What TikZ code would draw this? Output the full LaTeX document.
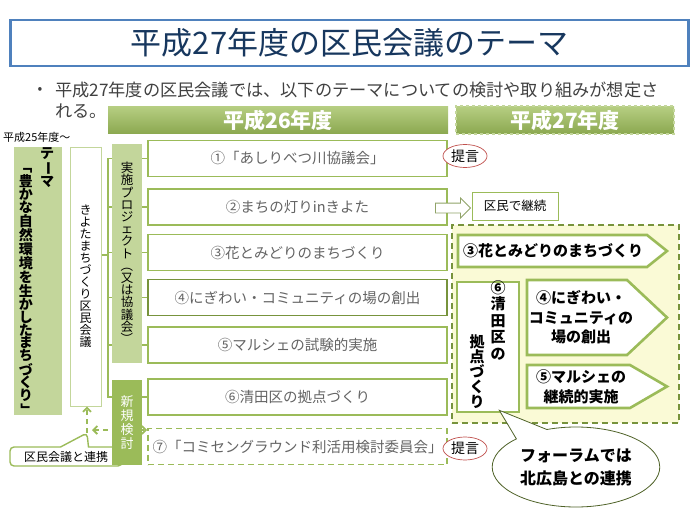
\documentclass[tikz,border=0pt]{standalone}
\usepackage{fontspec}
\setmainfont{Noto Sans CJK JP}
\usepackage{graphicx}
\definecolor{olive}{RGB}{155,187,89}
\definecolor{olivelight}{RGB}{195,214,155}
\definecolor{olivedark}{RGB}{119,147,60}
\definecolor{oliveshade}{RGB}{182,206,130}
\definecolor{titleblue}{RGB}{79,129,189}
\definecolor{titletext}{RGB}{23,55,94}
\definecolor{textgray}{RGB}{100,100,100}
\definecolor{leadgray}{RGB}{64,64,64}
\definecolor{paleyellow}{RGB}{250,250,214}
\definecolor{proposalred}{RGB}{192,80,77}
\definecolor{forumgreen}{RGB}{79,98,40}
\usetikzlibrary{arrows.meta, positioning, shapes.geometric, shapes.arrows, shapes.callouts}
% rotated glyph for vertical writing
\newcommand{\tate}[1]{\raisebox{0pt}[0.8em][0.1em]{\rotatebox[origin=c]{-90}{#1}}}

\begin{document}
\begin{tikzpicture}[x=1pt, y=-1pt,
  item/.style={draw=olive, line width=1.6pt, fill=white, minimum width=299pt,
               minimum height=36pt, inner sep=0pt, text=textgray,
               font=\fontsize{14.5}{16}\selectfont},
  hdr/.style={top color=oliveshade, bottom color=olive!90!black, minimum height=23pt,
              text=white, font=\fontsize{21}{22}\bfseries},
  vcol/.style={align=center, inner sep=0pt},
  tree/.style={draw=olive, line width=1.6pt},
  link/.style={draw=olive, line width=1.8pt, dashed, dash pattern=on 5pt off 4pt},
  pent/.style={draw=olive, line width=2.6pt, fill=white, line join=miter},
  pentlabel/.style={align=center, inner sep=0pt, font=\fontsize{15}{19.5}\bfseries},
  teigen/.style={ellipse, draw=proposalred, line width=0.7pt, fill=white, inner sep=0pt,
                 minimum width=44pt, minimum height=23pt, font=\fontsize{14}{15}\selectfont}
]
  \useasboundingbox (0,0) rectangle (699,519);

  % Title and lead
  \node[draw=titleblue, line width=2.5pt, minimum width=678pt, minimum height=46pt,
        text=titletext, font=\fontsize{31}{34}\selectfont] (title) at (349.5,43)
        {平成27年度の区民会議のテーマ};
  \node[text=leadgray, font=\fontsize{14}{15}\selectfont] (dot) at (40,90) {•};
  \node[anchor=west, inner sep=0pt, text=leadgray, font=\fontsize{17.2}{19}\selectfont]
        (lead) at (55,90) {平成27年度の区民会議では、以下のテーマについての検討や取り組みが想定さ};
  \node[anchor=west, inner sep=0pt, text=leadgray, font=\fontsize{17.2}{19}\selectfont]
        (lead2) at (55,111) {れる。};

  % Year headers
  \node[hdr, minimum width=340pt] (h26) at (278,120) {平成26年度};
  \node[hdr, minimum width=218pt, draw=olivelight, line width=1.8pt, dashed] (h27) at (565,120) {平成27年度};
  \node[anchor=west, inner sep=0pt, font=\fontsize{11}{12}\selectfont] (since) at (3,137) {平成25年度～};

  % Theme column
  \node[fill=olivelight, minimum width=48pt, minimum height=268pt] (theme) at (38,281) {};
  \node[vcol, anchor=north, font=\fontsize{14}{14}\bfseries] (themelabel) at (47,147)
        {テ\\\tate{ー}\\マ};
  \node[vcol, anchor=north, font=\fontsize{14}{12.8}\bfseries] (themetext) at (26,161)
        {\tate{「}\\豊\\か\\な\\自\\然\\環\\境\\を\\生\\か\\し\\た\\ま\\ち\\づ\\く\\り\\\tate{」}};
  \node[draw=olivelight, line width=1pt, fill=white, minimum width=31pt, minimum height=259pt,
        vcol, font=\fontsize{12}{12}\selectfont] (kumin) at (85.5,276.5)
        {き\\よ\\た\\ま\\ち\\づ\\く\\り\\区\\民\\会\\議};

  % Items of 平成26年度
  \node[item] (i1) at (297.5,158.5) {①「あしりべつ川協議会」};
  \node[item] (i2) at (297.5,207)   {②まちの灯りinきよた};
  \node[item] (i3) at (297.5,252.5) {③花とみどりのまちづくり};
  \node[item, draw=olivedark] (i4) at (297.5,297.5) {④にぎわい・コミュニティの場の創出};
  \node[item] (i5) at (297.5,345)   {⑤マルシェの試験的実施};
  \node[item] (i6) at (297.5,397)   {⑥清田区の拠点づくり};
  \node[item, dashed, dash pattern=on 6pt off 4pt] (i7) at (297.5,446.5) {⑦「コミセングラウンド利活用検討委員会」};

  % Link callout
  \coordinate (linkpt) at (87,433);
  \node[rectangle callout, draw=olive, line width=1.4pt, fill=white, rounded corners=4pt,
        minimum width=112pt, minimum height=19pt, inner sep=0pt, callout pointer width=28pt,
        callout absolute pointer=(linkpt), font=\fontsize{12}{13}\selectfont]
        (renkei) at (66,456.5) {区民会議と連携};

  % Tree connectors
  \coordinate (fork) at (108,255);
  \draw[tree] (kumin.east |- fork) -- (fork);
  \foreach \n in {1,...,6}
    \draw[tree] (fork) |- (i\n.west);
  \draw[link, -{Straight Barb[length=4pt,width=8pt]}] (linkpt) -- (linkpt |- kumin.south);
  \draw[link, {Straight Barb[length=4pt,width=8pt]}-{Straight Barb[length=4pt,width=8pt]}]
    ([xshift=5pt,yshift=3pt]linkpt) -- ([yshift=3pt]linkpt -| i7.west);

  % Category boxes
  \node[fill=olivelight, minimum width=30pt, minimum height=219pt, vcol,
        font=\fontsize{12.5}{12.2}\selectfont] (jisshi) at (127,253.5)
        {実\\施\\プ\\ロ\\ジ\\ェ\\ク\\ト\\\tate{（}\\又\\は\\協\\議\\会\\\tate{）}};
  \node[fill=olive, minimum width=30pt, minimum height=85pt, vcol, text=white,
        font=\fontsize{13}{14}\selectfont] (shinki) at (127,422.5)
        {新\\規\\検\\討};

  % Proposals and continuation
  \node[teigen] (t1) at (465,156) {提言};
  \node[teigen] (t7) at (465,448.5) {提言};
  \node[single arrow, draw=olive!60!gray, line width=0.8pt, fill=white, inner sep=4.5pt,
        single arrow head extend=5pt, minimum height=35pt] (arr) at (450.5,208) {};
  \node[draw=olive, line width=0.9pt, fill=white, minimum width=86pt, minimum height=28pt,
        inner sep=0pt, font=\fontsize{12.5}{13}\selectfont] (keizoku) at (515,206) {区民で継続};

  % 平成27年度 area
  \node[draw=olivedark, line width=1.5pt, dashed, dash pattern=on 6pt off 4pt, fill=paleyellow,
        minimum width=227pt, minimum height=198pt] (zone) at (565.5,324) {};
  \draw[pent] (458,235) -- (647,235) -- (667,251) -- (647,267) -- (458,267) -- cycle;
  \node[pentlabel] (p3) at (553,251) {③花とみどりのまちづくり};
  \node[draw=olive, line width=2.6pt, fill=white, minimum width=62pt, minimum height=130pt]
        (hub) at (488,347) {};
  \node[vcol, anchor=north, font=\fontsize{15}{16.5}\bfseries] (hubcol1) at (498,280)
        {⑥\\清\\田\\区\\の};
  \node[vcol, anchor=north, font=\fontsize{15}{15}\bfseries] (hubcol2) at (477,334)
        {拠\\点\\づ\\く\\り};
  \draw[pent] (527,280) -- (627,280) -- (667,317.5) -- (627,355) -- (527,355) -- cycle;
  \node[pentlabel] (p4) at (581,317.5) {④にぎわい・\\コミュニティの\\場の創出};
  \draw[pent] (527,365) -- (630,365) -- (667,386.5) -- (630,408) -- (527,408) -- cycle;
  \node[pentlabel] (p5) at (581,387) {⑤マルシェの\\継続的実施};

  % Forum callout
  \coordinate (hubtip) at ([xshift=-21pt,yshift=3pt]hub.south east);
  \node[ellipse callout, draw=forumgreen, line width=0.8pt, fill=white,
        minimum width=167pt, minimum height=80pt, align=center, callout pointer arc=25,
        callout absolute pointer=(hubtip), font=\fontsize{16}{23}\bfseries]
        (forum) at (576,467) {フォーラムでは\\北広島との連携};
\end{tikzpicture}
\end{document}
